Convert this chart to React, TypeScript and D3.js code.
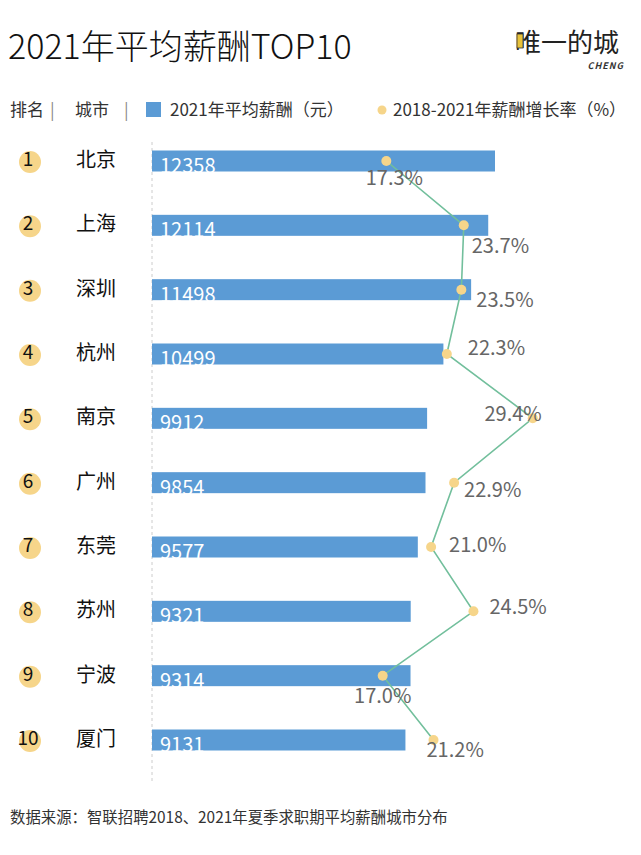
import React, { useEffect, useRef } from 'react';
import * as d3 from 'd3';

const cities = ['北京', '上海', '深圳', '杭州', '南京', '广州', '东莞', '苏州', '宁波', '厦门'];
const salary = [12358, 12114, 11498, 10499, 9912, 9854, 9577, 9321, 9314, 9131];
const growth = [17.3, 23.7, 23.5, 22.3, 29.4, 22.9, 21.0, 24.5, 17.0, 21.2];

// where each growth label sits relative to its dot: [dx, dy, anchor]
const labelPos: [number, number, string][] = [
    [8, 24, 'middle'],
    [8, 28, 'start'],
    [15, 17, 'start'],
    [21, 1, 'start'],
    [9, 3, 'end'],
    [10, 14, 'start'],
    [18, 5, 'start'],
    [16, 3, 'start'],
    [0, 27, 'middle'],
    [-7, 17, 'start'],
];

const FONT = '"Noto Sans CJK SC", "Noto Sans", sans-serif';
const BLUE = '#5b9bd5';
const YELLOW = '#f6d58a';
const GREEN = '#72bf9c';

const App = () => {
    const svgRef = useRef<SVGSVGElement>(null);

    useEffect(() => {
        document.body.style.margin = '0';
        const width = 641;
        const height = 855;

        const svg = d3.select(svgRef.current)
            .attr('width', width)
            .attr('height', height)
            .style('display', 'block')
            .style('font-family', FONT);
        svg.selectAll('*').remove();

        svg.append('rect').attr('width', width).attr('height', height).attr('fill', '#fff');

        const x = d3.scaleLinear().domain([0, 12358]).range([152, 495]);
        const g = d3.scaleLinear().domain([0, 30]).range([177, 540]);
        const y = d3.scalePoint<string>().domain(cities).range([161, 740]);
        const barH = 21;

        // title + logo
        svg.append('text').attr('x', 8).attr('y', 59)
            .attr('font-size', 34).attr('font-weight', 300).attr('fill', '#111')
            .text('2021年平均薪酬TOP10');

        svg.append('text').attr('x', 515).attr('y', 52)
            .attr('font-size', 26).attr('fill', '#222')
            .text('唯一的城');
        svg.append('rect').attr('x', 517).attr('y', 34).attr('width', 6).attr('height', 14)
            .attr('fill', '#e8c23a').attr('stroke', '#333').attr('stroke-width', 0.8);
        svg.append('text').attr('x', 624).attr('y', 69)
            .attr('text-anchor', 'end').attr('font-size', 9).attr('font-weight', 'bold')
            .attr('font-style', 'italic').attr('fill', '#333').attr('letter-spacing', 1)
            .text('CHENG');

        // legend row
        const ly = 116;
        const legend = svg.append('g').attr('font-size', 17).attr('fill', '#333');
        legend.append('text').attr('x', 10).attr('y', ly).text('排名');
        legend.append('text').attr('x', 50).attr('y', ly).attr('fill', '#888').text('|');
        legend.append('text').attr('x', 75).attr('y', ly).text('城市');
        legend.append('text').attr('x', 124).attr('y', ly).attr('fill', '#888').text('|');
        legend.append('rect').attr('x', 146).attr('y', ly - 14).attr('width', 15).attr('height', 15).attr('fill', BLUE);
        legend.append('text').attr('x', 170).attr('y', ly).text('2021年平均薪酬（元）');
        legend.append('circle').attr('cx', 382).attr('cy', ly - 6).attr('r', 4.5).attr('fill', YELLOW);
        legend.append('text').attr('x', 393).attr('y', ly).text('2018-2021年薪酬增长率（%）');

        // dashed baseline
        svg.append('line')
            .attr('x1', x(0)).attr('x2', x(0))
            .attr('y1', 142).attr('y2', 782)
            .attr('stroke', '#ccc').attr('stroke-dasharray', '3,3');

        const rows = svg.selectAll('.row')
            .data(cities)
            .enter().append('g')
            .attr('class', 'row');

        rows.append('circle')
            .attr('cx', 30).attr('cy', d => y(d)! + 1)
            .attr('r', 11).attr('fill', YELLOW);
        rows.append('text')
            .attr('x', 28).attr('y', d => y(d)! + 5)
            .attr('text-anchor', 'middle').attr('font-size', 19).attr('fill', '#111')
            .text((d, i) => i + 1);
        rows.append('text')
            .attr('x', 76).attr('y', d => y(d)! + 6)
            .attr('font-size', 20).attr('fill', '#111')
            .text(d => d);

        rows.append('rect')
            .attr('x', x(0))
            .attr('y', d => y(d)! - barH / 2)
            .attr('width', (d, i) => x(salary[i]) - x(0))
            .attr('height', barH)
            .attr('fill', BLUE);

        rows.append('text')
            .attr('x', x(0) + 8).attr('y', d => y(d)! + 12)
            .attr('font-size', 20).attr('fill', '#fff')
            .text((d, i) => salary[i]);

        // growth line
        const pts = cities.map((c, i) => [g(growth[i]), y(c)!] as [number, number]);
        svg.append('path')
            .attr('d', d3.line()(pts))
            .attr('fill', 'none').attr('stroke', GREEN).attr('stroke-width', 1.6);

        svg.selectAll('.dot')
            .data(pts)
            .enter().append('circle')
            .attr('class', 'dot')
            .attr('cx', d => d[0]).attr('cy', d => d[1])
            .attr('r', 5).attr('fill', YELLOW);

        svg.selectAll('.pct')
            .data(pts)
            .enter().append('text')
            .attr('class', 'pct')
            .attr('x', (d, i) => d[0] + labelPos[i][0])
            .attr('y', (d, i) => d[1] + labelPos[i][1])
            .attr('text-anchor', (d, i) => labelPos[i][2])
            .attr('font-size', 20).attr('fill', '#666')
            .text((d, i) => growth[i].toFixed(1) + '%');

        // source
        svg.append('text').attr('x', 10).attr('y', 823)
            .attr('font-size', 15.4).attr('fill', '#333')
            .text('数据来源：智联招聘2018、2021年夏季求职期平均薪酬城市分布');
    }, []);

    return <svg ref={svgRef}></svg>;
};

export default App;
